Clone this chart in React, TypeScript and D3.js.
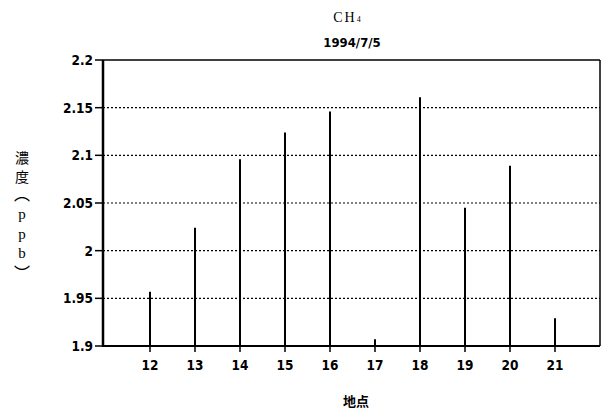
import React from "react";
import * as d3 from "d3";

const sites = [12, 13, 14, 15, 16, 17, 18, 19, 20, 21];
const values = [1.957, 2.024, 2.096, 2.124, 2.146, 1.907, 2.161, 2.045, 2.089, 1.929];
const yTicks = [1.9, 1.95, 2, 2.05, 2.1, 2.15, 2.2];
const yTickLabels = ["1.9", "1.95", "2", "2.05", "2.1", "2.15", "2.2"];
const yTitleCJK = ["濃", "度"];
const yTitleUnit = ["p", "p", "b"];

export default function App() {
  const W = 605, H = 412;
  const left = 103, right = 600, top = 60, bottom = 346;
  const x = d3.scaleLinear().domain([11, 22]).range([left + 2, right]);
  const y = d3.scaleLinear().domain([1.9, 2.2]).range([bottom, top]);
  const tickFont = "'DejaVu Sans Condensed', 'DejaVu Sans', sans-serif";
  const cjk = "'Noto Sans CJK JP', sans-serif";
  const tx = 22;
  const cjkCenters = [157, 176];
  const unitBaselines = [219, 239, 258];
  const vert = { writingMode: "vertical-rl", textOrientation: "upright" } as any;
  return (
    <svg width={W} height={H} style={{ position: "absolute", left: 0, top: 0, background: "#fff" }}>
      <rect x={0} y={0} width={W} height={H} fill="#fff" />
      {yTicks.filter((t) => t > 1.9 && t < 2.2).map((t) => (
        <line key={"g" + t} x1={left} x2={right} y1={y(t)} y2={y(t)} stroke="#000" strokeWidth={1.2} strokeDasharray="2,2" />
      ))}
      <line x1={left} x2={right} y1={y(2.2)} y2={y(2.2)} stroke="#000" strokeWidth={1.5} />
      <line x1={right} x2={right} y1={top} y2={bottom} stroke="#000" strokeWidth={1.5} />
      <line x1={left} x2={right} y1={bottom} y2={bottom} stroke="#000" strokeWidth={2} />
      <line x1={left} x2={left} y1={top} y2={bottom + 1} stroke="#000" strokeWidth={2.5} />
      {yTicks.map((t, i) => (
        <g key={"y" + t}>
          <line x1={left - 8} x2={left} y1={y(t)} y2={y(t)} stroke="#000" strokeWidth={1.5} />
          <text x={left - 10} y={y(t)} dy="0.36em" textAnchor="end" fontFamily={tickFont} fontWeight="bold" fontSize={13.5} fill="#000">
            {yTickLabels[i]}
          </text>
        </g>
      ))}
      {sites.map((s) => (
        <g key={"x" + s}>
          <line x1={x(s)} x2={x(s)} y1={bottom} y2={bottom + 6} stroke="#000" strokeWidth={1.5} />
          <text x={x(s)} y={bottom + 24} textAnchor="middle" fontFamily={tickFont} fontWeight="bold" fontSize={13.5} fill="#000">
            {s}
          </text>
        </g>
      ))}
      {sites.map((s, i) => (
        <line key={"b" + s} x1={x(s)} x2={x(s)} y1={bottom} y2={y(values[i])} stroke="#000" strokeWidth={2} />
      ))}
      <text x={348} y={22} textAnchor="middle" fontFamily="'Liberation Serif', serif" fontSize={14} fill="#000" letterSpacing={2}>
        CH<tspan fontSize={8}>4</tspan>
      </text>
      <text x={352} y={47} textAnchor="middle" fontFamily={tickFont} fontWeight="bold" fontSize={13} fill="#000">
        1994/7/5
      </text>
      {yTitleCJK.map((c, i) => (
        <text key={"c" + i} x={tx} y={cjkCenters[i]} textAnchor="middle" dominantBaseline="central" fontFamily={cjk} fontSize={14} fill="#000">
          {c}
        </text>
      ))}
      <text x={tx} y={186} style={vert} fontFamily={cjk} fontSize={16} fill="#000">（</text>
      {yTitleUnit.map((c, i) => (
        <text key={"u" + i} x={tx} y={unitBaselines[i]} textAnchor="middle" fontFamily="'Liberation Serif', serif" fontSize={15} fill="#000">
          {c}
        </text>
      ))}
      <text x={tx} y={264.5} style={vert} fontFamily={cjk} fontSize={16} fill="#000">）</text>
      <text x={356} y={406} textAnchor="middle" fontFamily={cjk} fontWeight="bold" fontSize={13} fill="#000">
        地点
      </text>
    </svg>
  );
}
